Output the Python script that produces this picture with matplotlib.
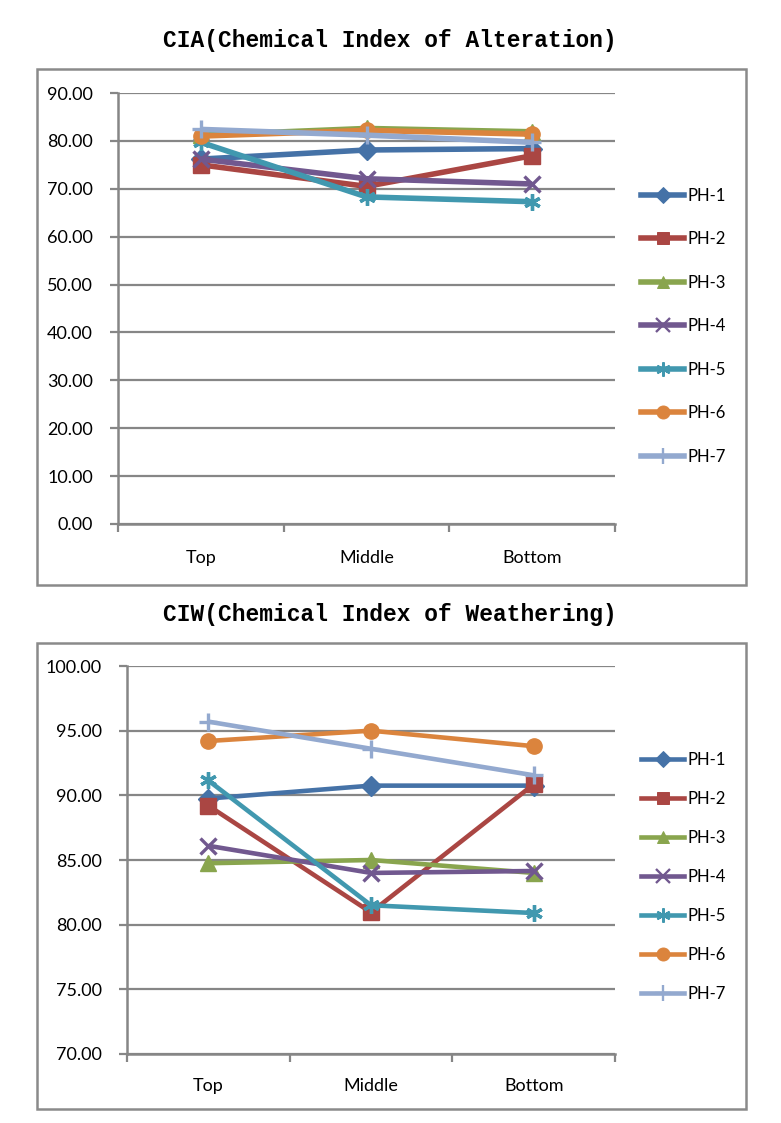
import numpy as np
import matplotlib.pyplot as plt
from matplotlib.patches import Rectangle
from matplotlib.lines import Line2D

# data
positions = ["Top", "Middle", "Bottom"]
series = ["PH-1", "PH-2", "PH-3", "PH-4", "PH-5", "PH-6", "PH-7"]

cia = {
    "PH-1": [76.2, 78.1, 78.4],
    "PH-2": [75.0, 70.5, 76.9],
    "PH-3": [81.2, 82.6, 81.9],
    "PH-4": [76.2, 72.1, 71.0],
    "PH-5": [79.7, 68.3, 67.3],
    "PH-6": [81.0, 82.2, 81.4],
    "PH-7": [82.4, 81.2, 79.7],
}
ciw = {
    "PH-1": [89.75, 90.75, 90.75],
    "PH-2": [89.2, 80.95, 90.85],
    "PH-3": [84.75, 85.0, 84.0],
    "PH-4": [86.1, 84.0, 84.15],
    "PH-5": [91.15, 81.5, 80.9],
    "PH-6": [94.2, 95.0, 93.8],
    "PH-7": [95.7, 93.6, 91.55],
}

colors = ["#4572A7", "#AA4643", "#89A54E", "#71588F", "#4198AF", "#DB843D", "#93A9CF"]
markers = ["D", "s", "^", "x", (6, 2, 0), "o", "+"]
msizes = [10, 11, 11, 12, 12, 11, 13]

GRAY = "#868686"
W, H = 781, 1123

plt.rcParams['font.family'] = ['Lato', 'DejaVu Sans']

fig = plt.figure(figsize=(W / 100, H / 100), dpi=100)


def px_rect(x0, y0, x1, y1):
    # pixel box (top-left origin) -> figure fraction [l, b, w, h]
    return [x0 / W, 1 - y1 / H, (x1 - x0) / W, (y1 - y0) / H]


def draw_chart(data, box, frame, title, title_y, ylim, ystep, lw, leg_y, leg_h, xpad):
    fig.patches.append(Rectangle((frame[0] / W, 1 - frame[3] / H),
                                 (frame[2] - frame[0]) / W, (frame[3] - frame[1]) / H,
                                 transform=fig.transFigure, fill=False,
                                 edgecolor="#8a8a8a", linewidth=1.8))
    fig.text(0.4994, 1 - title_y / H, title, ha="center", va="center",
             fontsize=16.5, fontweight="bold", family=["Liberation Mono", "DejaVu Sans Mono"])

    ax = fig.add_axes(px_rect(*box))
    x = np.arange(1, len(positions) + 1)
    handles = []
    for name, c, m, ms in zip(series, colors, markers, msizes):
        mew = 2.4 if m in ("x", "+", (6, 2, 0)) else 1
        ax.plot(x, data[name], color=c, lw=lw, marker=m, markersize=ms,
                markeredgewidth=mew, markeredgecolor=c, markerfacecolor=c,
                clip_on=False, solid_capstyle="butt")
        handles.append(Line2D([], [], color=c, lw=lw, marker=m, markersize=ms * 0.85,
                              markeredgewidth=mew * 0.7, markeredgecolor=c,
                              markerfacecolor=c, label=name))

    ax.set_xlim(0.5, len(positions) + 0.5)
    ax.set_ylim(*ylim)
    ticks = np.arange(ylim[0], ylim[1] + 0.001, ystep)
    ax.set_yticks(ticks)
    ax.set_yticklabels([f"{t:.2f}" for t in ticks])
    ax.set_xticks(x)
    ax.set_xticklabels(positions)
    ax.set_xticks(np.arange(0.5, len(positions) + 1, 1), minor=True)
    ax.tick_params(axis="x", which="major", length=0, pad=xpad, labelsize=13)
    ax.tick_params(axis="x", which="minor", length=6, width=1.6, color=GRAY, direction="out")
    ax.tick_params(axis="y", length=6, width=1.6, color=GRAY, direction="out", pad=12, labelsize=13)
    ax.yaxis.grid(True, color=GRAY, linewidth=1.6)
    ax.set_axisbelow(True)
    for s in ("top", "right"):
        ax.spines[s].set_visible(False)
    for s in ("left", "bottom"):
        ax.spines[s].set_color(GRAY)
        ax.spines[s].set_linewidth(1.8)

    fig.legend(handles=handles, loc="center left", frameon=False,
               bbox_to_anchor=(641 / W, 1 - leg_y / H), fontsize=12,
               handlelength=2.6, handletextpad=0.2, labelspacing=leg_h,
               borderaxespad=0, borderpad=0)
    return ax


draw_chart(cia, (118, 93, 615, 524), (37, 69, 746, 585),
           "CIA(Chemical Index of Alteration)", 40, (0, 90), 10, 4.0, 326, 1.65, 19)
draw_chart(ciw, (127, 666, 615, 1054), (37, 643, 746, 1109),
           "CIW(Chemical Index of Weathering)", 614, (70, 100), 5, 3.3, 877, 1.38, 17)

plt.savefig("out.png", dpi=100)
